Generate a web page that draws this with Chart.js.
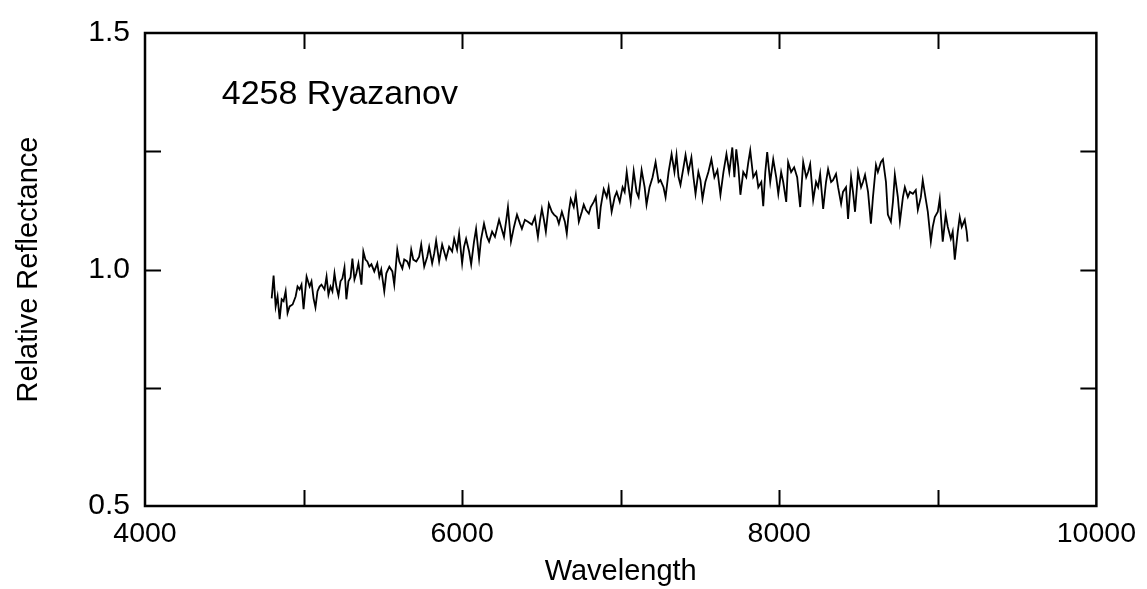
<!DOCTYPE html>
<html>
<head>
<meta charset="utf-8">
<script src="https://cdn.jsdelivr.net/npm/chart.js@4.4.1/dist/chart.umd.min.js"></script>
<style>
html,body{margin:0;padding:0;background:#fff;}
#wrap{width:1147px;height:589px;position:relative;}
</style>
</head>
<body>
<div id="wrap"><canvas id="c" width="1147" height="589"></canvas></div>
<script>
const wavelength = [
4799,4811,4824,4836,4849,4862,4874,4887,4899,4912,4931,4950,4962,4975,4987,5000,5019,5038,5050,5063,
5075,5088,5101,5113,5132,5145,5157,5170,5182,5195,5207,5220,5233,5245,5258,5270,5283,5296,5308,5321,
5333,5346,5358,5365,5377,5390,5402,5415,5428,
5446,5465,5478,5490,5509,5522,5541,5560,5572,5591,5604,5623,5635,5654,5667,5679,5692,5711,5729,5742,
5761,5780,5792,5811,5824,5836,5855,5874,
5899,5918,5937,5950,5968,5981,6000,6012,6025,6044,6057,6075,6088,6107,6119,6138,6157,6170,6189,6207,
6233,6251,6264,6277,6289,6308,6327,6346,6365,6377,6396,6415,6440,6459,6478,6490,6503,6516,6528,6547,
6566,6579,6597,6610,6629,6648,6660,6673,6685,6704,6717,6736,6755,6767,6780,6799,6811,6830,6843,6861,
6874,6893,6912,6924,6943,6962,6975,
6994,7012,7025,7038,7050,7063,7082,7100,7113,7132,7151,7163,7182,7201,7220,7239,7251,7270,7283,7302,
7321,7339,7352,7365,7377,7396,7409,7427,7446,7459,7472,7490,7503,7516,7534,7553,7572,7591,7610,7629,
7648,7667,7685,7704,7717,7729,7742,7755,7773,7792,7805,7817,7836,7855,7868,7887,7899,7912,7924,7943,
7962,7981,7994,8012,8025,8044,8056,
8075,8094,8113,8132,8151,8170,8182,8195,8214,8232,8245,8258,8277,8295,8308,8327,8339,8358,8371,8390,
8402,8421,8434,8453,8465,8478,8497,8516,8528,8541,8560,8578,8591,8610,8622,8641,8654,8673,8685,8704,
8717,8729,8748,8761,8780,8792,8811,8824,8843,8861,8874,8893,8905,8924,8937,8956,8968,8981,9000,9012,
9031,9050,9063,9082,9094,9107,9126,9138,9151,9170,9182,9188
];
const reflectance = [
0.939,0.987,0.922,0.943,0.895,0.937,0.933,0.954,0.908,0.922,0.926,0.943,0.964,0.958,0.968,0.916,0.985,0.964,0.975,0.939,
0.920,0.954,0.964,0.968,0.958,0.985,0.947,0.964,0.954,0.992,0.964,0.945,0.975,0.981,1.004,0.937,0.975,0.983,1.023,0.979,
0.992,1.013,0.985,0.968,1.038,1.021,1.017,1.006,1.011,
0.996,1.013,0.985,1.000,0.954,0.992,1.006,0.996,0.968,1.042,1.017,1.002,1.021,1.017,1.006,1.042,1.021,1.017,1.027,1.053,
1.006,1.027,1.048,1.013,1.034,1.061,1.017,1.053,
1.023,1.048,1.038,1.065,1.042,1.076,1.013,1.048,1.065,1.038,1.011,1.059,1.086,1.023,1.063,1.097,1.069,1.059,1.080,1.069,
1.105,1.084,1.069,1.101,1.132,1.059,1.090,1.116,1.097,1.086,1.105,1.101,1.095,1.111,1.069,1.101,1.128,1.105,1.080,1.139,
1.122,1.116,1.111,1.097,1.122,1.101,1.076,1.122,1.149,1.132,1.158,1.101,1.122,1.137,1.126,1.118,1.132,1.143,1.153,1.086,
1.132,1.170,1.153,1.174,1.122,1.153,1.164,
1.143,1.174,1.164,1.206,1.174,1.143,1.208,1.164,1.153,1.210,1.174,1.137,1.174,1.195,1.227,1.185,1.189,1.174,1.153,1.206,
1.244,1.206,1.242,1.195,1.179,1.216,1.242,1.206,1.237,1.195,1.160,1.206,1.189,1.149,1.185,1.206,1.233,1.195,1.210,1.158,
1.206,1.244,1.206,1.258,1.195,1.254,1.216,1.158,1.206,1.195,1.227,1.252,1.195,1.206,1.174,1.185,1.134,1.206,1.248,1.185,
1.233,1.195,1.160,1.206,1.185,1.143,1.227,
1.206,1.216,1.195,1.132,1.227,1.195,1.206,1.223,1.147,1.185,1.174,1.202,1.128,1.185,1.212,1.185,1.189,1.202,1.174,1.139,
1.164,1.174,1.107,1.195,1.164,1.122,1.206,1.174,1.185,1.200,1.164,1.097,1.153,1.221,1.206,1.227,1.233,1.185,1.116,1.101,
1.143,1.200,1.153,1.101,1.153,1.174,1.153,1.164,1.160,1.168,1.126,1.153,1.189,1.149,1.122,1.059,1.090,1.111,1.122,1.149,
1.059,1.116,1.090,1.065,1.080,1.021,1.080,1.111,1.090,1.105,1.080,1.059
];
const xLabelTicks = [4000, 6000, 8000, 10000];
const yLabelTicks = [0.5, 1.0, 1.5];
const objectName = "4258 Ryazanov";
const xTitle = "Wavelength";
const yTitle = "Relative Reflectance";

const points = wavelength.map((w, i) => ({x: w, y: reflectance[i]}));
const FONT = "'Liberation Sans', Arial, sans-serif";

const framePlugin = {
  id: 'frame',
  afterDraw(chart) {
    const {ctx, chartArea: a, scales: {x, y}} = chart;
    ctx.save();
    ctx.strokeStyle = '#000';
    ctx.lineWidth = 2.5;
    ctx.strokeRect(a.left, a.top, a.right - a.left, a.bottom - a.top);
    ctx.lineWidth = 2;
    const L = 16;
    ctx.beginPath();
    x.ticks.forEach(t => {
      if (t.value <= x.min || t.value >= x.max) return;
      const px = Math.round(x.getPixelForValue(t.value)) + 0.5;
      ctx.moveTo(px, a.bottom); ctx.lineTo(px, a.bottom - L);
      ctx.moveTo(px, a.top); ctx.lineTo(px, a.top + L);
    });
    y.ticks.forEach(t => {
      if (t.value <= y.min || t.value >= y.max) return;
      const py = Math.round(y.getPixelForValue(t.value)) + 0.5;
      ctx.moveTo(a.left, py); ctx.lineTo(a.left + L, py);
      ctx.moveTo(a.right, py); ctx.lineTo(a.right - L, py);
    });
    ctx.stroke();
    ctx.fillStyle = '#000';
    ctx.font = '34px ' + FONT;
    ctx.textBaseline = 'alphabetic';
    ctx.textAlign = 'left';
    ctx.fillText(objectName, x.getPixelForValue(4484), y.getPixelForValue(1.349));
    ctx.restore();
  }
};

new Chart(document.getElementById('c'), {
  type: 'scatter',
  data: {
    datasets: [{
      data: points,
      showLine: true,
      borderColor: '#000',
      borderWidth: 1.8,
      pointRadius: 0,
      tension: 0
    }]
  },
  options: {
    responsive: false,
    animation: false,
    layout: {padding: {left: 0, right: 45, top: 28, bottom: 0}},
    plugins: {legend: {display: false}, tooltip: {enabled: false}},
    scales: {
      x: {
        type: 'linear', min: 4000, max: 10000,
        grid: {display: false, drawTicks: false},
        border: {display: false},
        ticks: {
          stepSize: 1000, padding: 11, color: '#000',
          font: {family: FONT, size: 28.5},
          maxRotation: 0, autoSkip: false,
          callback: v => xLabelTicks.includes(v) ? String(v) : ''
        },
        title: {display: true, text: xTitle, color: '#000', font: {family: FONT, size: 29}, padding: {top: 0, bottom: 0}},
        afterFit(s) { s.height = 83; }
      },
      y: {
        type: 'linear', min: 0.5, max: 1.5,
        grid: {display: false, drawTicks: false},
        border: {display: false},
        ticks: {
          stepSize: 0.25, padding: 15, color: '#000',
          font: {family: FONT, size: 30},
          autoSkip: false,
          callback: v => yLabelTicks.some(t => Math.abs(t - v) < 1e-9) ? v.toFixed(1) : ''
        },
        title: {display: true, text: yTitle, color: '#000', font: {family: FONT, size: 29}, padding: {top: 12, bottom: 0}},
        afterFit(s) { s.width = 145; }
      }
    }
  },
  plugins: [framePlugin]
});
</script>
</body>
</html>
